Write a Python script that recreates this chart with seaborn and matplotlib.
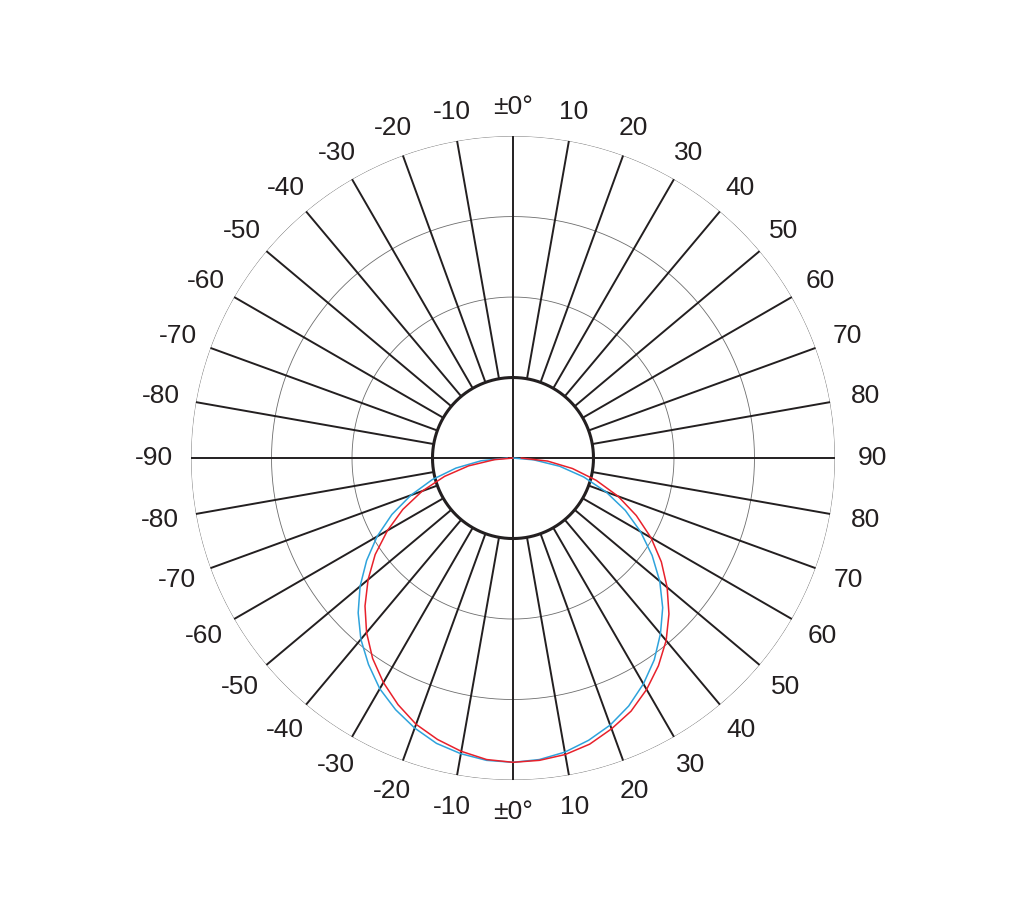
import numpy as np
import matplotlib
matplotlib.use('Agg')
import matplotlib.pyplot as plt
import seaborn as sns

# angles of the light distribution (0 = straight down, + = right side)
angles = list(range(-90, 95, 5))
# relative intensity (outer ring = 4)
red_vals = [0.00, 0.23, 0.56, 0.88, 1.20, 1.51, 1.80, 2.09, 2.35, 2.60,
            2.83, 3.04, 3.22, 3.38, 3.52, 3.62, 3.70, 3.76, 3.78,
            3.77, 3.74, 3.68, 3.58, 3.47, 3.32, 3.15, 2.96, 2.74,
            2.50, 2.25, 1.98, 1.69, 1.39, 1.07, 0.75, 0.43, 0.10]
blue_vals = [0.07, 0.40, 0.72, 1.04, 1.35, 1.66, 1.95, 2.22, 2.48, 2.72,
             2.94, 3.13, 3.31, 3.45, 3.57, 3.67, 3.73, 3.77, 3.78,
             3.76, 3.71, 3.63, 3.53, 3.40, 3.24, 3.06, 2.85, 2.63,
             2.38, 2.11, 1.83, 1.54, 1.23, 0.91, 0.59, 0.26, 0.00]

top_labels = [-90, -80, -70, -60, -50, -40, -30, -20, -10, 0,
              10, 20, 30, 40, 50, 60, 70, 80, 90]
bottom_labels = [-80, -70, -60, -50, -40, -30, -20, -10, 0,
                 10, 20, 30, 40, 50, 60, 70, 80]
rings = [1, 2, 3, 4]

sns.set_style('white')
plt.rcParams['font.family'] = ['Liberation Sans', 'DejaVu Sans']

fig = plt.figure(figsize=(10.22, 9.18), dpi=100)
ax = fig.add_axes([0.1869, 0.1503, 0.6301, 0.7015], projection='polar')
ax.set_theta_zero_location('N')
ax.set_theta_direction(-1)
ax.set_xticks([])
ax.set_yticks([])
ax.grid(False)
ax.spines['polar'].set_visible(False)

full = np.linspace(0, 2 * np.pi, 721)
# thin rings
for r in rings[1:]:
    ax.plot(full, np.full_like(full, r), color='#6d6d6d', lw=0.6, zorder=1)

# spokes every 10 degrees
for d in range(0, 360, 10):
    t = np.deg2rad(d)
    r0 = 0 if d % 90 == 0 else 1
    ax.plot([t, t], [r0, 4], color='#231f20', lw=1.4, zorder=2)

# inner ring
ax.fill(full, np.full_like(full, 1), color='white', zorder=2.5)
ax.plot(full, np.full_like(full, 1), color='#231f20', lw=2.2, zorder=3)
for d in (0, 90, 180, 270):
    t = np.deg2rad(d)
    ax.plot([t, t], [0, 1], color='#231f20', lw=1.4, zorder=3.5)

# curves (bottom half)
theta = np.deg2rad(180 - np.array(angles))
sns.lineplot(x=theta, y=blue_vals, ax=ax, color='#2ea3dc', lw=1.1,
             sort=False, zorder=4)
sns.lineplot(x=theta, y=red_vals, ax=ax, color='#e8212b', lw=1.1,
             sort=False, zorder=5)
ax.set_xlabel('')
ax.set_ylabel('')
ax.set_ylim(0, 4)

def fmt(v):
    return '\u00b10\u00b0' if v == 0 else str(v)

for v in top_labels:
    r = 4.46 - 0.10 * abs(np.cos(np.deg2rad(v)))
    ax.text(np.deg2rad(v), r, fmt(v), ha='center', va='center',
            fontsize=19, color='#231f20')
for v in bottom_labels:
    r = 4.46 - 0.06 * np.cos(np.deg2rad(v))
    ax.text(np.deg2rad(180 - v), r, fmt(v), ha='center', va='center',
            fontsize=19, color='#231f20')

fig.savefig('out.png', dpi=100, facecolor='white')
